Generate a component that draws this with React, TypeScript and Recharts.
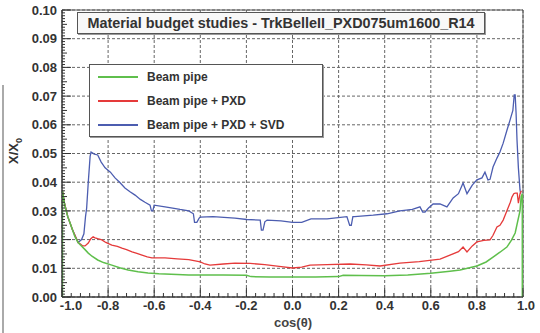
import React from 'react';
import { LineChart, Line, XAxis, YAxis, CartesianGrid, ReferenceArea } from 'recharts';

// cos(theta) positions and X/X0 readings, one pair of arrays per curve
const pipeCos = [-0.998, -0.998, -0.99, -0.985, -0.975, -0.965, -0.955, -0.944, -0.93, -0.92, -0.9, -0.886, -0.87, -0.845, -0.82, -0.784, -0.75, -0.713, -0.67, -0.627, -0.58, -0.553, -0.5, -0.45, -0.4, -0.3, -0.2, -0.18, -0.1, 0.0, 0.1, 0.2, 0.22, 0.3, 0.4, 0.5, 0.6, 0.683, 0.727, 0.8, 0.84, 0.87, 0.9, 0.93, 0.95, 0.966, 0.976, 0.987, 0.992, 0.997, 0.997];
const pipeX0 = [0, 0.037, 0.033, 0.031, 0.028, 0.0258, 0.0235, 0.021, 0.019, 0.0181, 0.0165, 0.0153, 0.0142, 0.0129, 0.012, 0.0111, 0.0102, 0.0094, 0.0088, 0.0084, 0.0081, 0.008, 0.0078, 0.0077, 0.0077, 0.0077, 0.0076, 0.0071, 0.007, 0.007, 0.007, 0.0071, 0.0076, 0.0075, 0.0074, 0.0077, 0.0083, 0.009, 0.0094, 0.0108, 0.0122, 0.0139, 0.0156, 0.0174, 0.0198, 0.0223, 0.026, 0.03, 0.035, 0.036, 0];

const pxdCos = [-0.998, -0.99, -0.975, -0.955, -0.93, -0.92, -0.91, -0.9, -0.886, -0.875, -0.865, -0.857, -0.845, -0.827, -0.81, -0.784, -0.76, -0.74, -0.72, -0.696, -0.675, -0.653, -0.63, -0.61, -0.553, -0.5, -0.45, -0.4, -0.38, -0.358, -0.3, -0.25, -0.184, -0.12, -0.04, 0.0, 0.04, 0.076, 0.15, 0.25, 0.32, 0.38, 0.466, 0.55, 0.64, 0.683, 0.72, 0.74, 0.757, 0.78, 0.8, 0.83, 0.857, 0.87, 0.887, 0.9, 0.914, 0.925, 0.935, 0.945, 0.952, 0.96, 0.966, 0.975, 0.98, 0.987, 0.993];
const pxdX0 = [0.037, 0.033, 0.028, 0.0235, 0.019, 0.0185, 0.0178, 0.0178, 0.0188, 0.0203, 0.021, 0.0206, 0.0203, 0.0199, 0.019, 0.0181, 0.0176, 0.017, 0.0165, 0.0157, 0.0152, 0.0146, 0.014, 0.0136, 0.0136, 0.0133, 0.013, 0.0122, 0.0115, 0.0111, 0.0115, 0.0118, 0.0117, 0.0113, 0.0105, 0.0101, 0.0104, 0.0111, 0.0113, 0.0115, 0.0112, 0.0108, 0.0118, 0.0123, 0.0132, 0.0146, 0.0158, 0.0174, 0.0157, 0.0178, 0.0192, 0.0197, 0.0199, 0.0215, 0.0244, 0.025, 0.0268, 0.029, 0.031, 0.033, 0.0348, 0.036, 0.0362, 0.0362, 0.0327, 0.036, 0.037];

const svdCos = [-0.998, -0.99, -0.975, -0.955, -0.93, -0.915, -0.905, -0.898, -0.893, -0.886, -0.878, -0.874, -0.86, -0.845, -0.83, -0.813, -0.79, -0.77, -0.75, -0.727, -0.705, -0.683, -0.66, -0.64, -0.618, -0.612, -0.606, -0.6, -0.553, -0.52, -0.488, -0.45, -0.43, -0.425, -0.415, -0.405, -0.4, -0.345, -0.25, -0.198, -0.14, -0.135, -0.128, -0.12, -0.11, -0.05, 0.0, 0.04, 0.08, 0.15, 0.236, 0.248, 0.255, 0.262, 0.27, 0.35, 0.41, 0.466, 0.52, 0.553, 0.565, 0.575, 0.59, 0.61, 0.64, 0.67, 0.697, 0.72, 0.74, 0.757, 0.78, 0.8, 0.822, 0.835, 0.848, 0.857, 0.87, 0.887, 0.9, 0.914, 0.93, 0.944, 0.956, 0.962, 0.966, 0.97, 0.974, 0.98, 0.987, 0.99];
const svdX0 = [0.037, 0.033, 0.028, 0.0235, 0.019, 0.02, 0.022, 0.028, 0.031, 0.04, 0.049, 0.0505, 0.0498, 0.0495, 0.047, 0.045, 0.0435, 0.0415, 0.04, 0.038, 0.0367, 0.0355, 0.034, 0.033, 0.032, 0.03, 0.03, 0.032, 0.0314, 0.031, 0.0305, 0.03, 0.029, 0.026, 0.026, 0.0275, 0.0278, 0.028, 0.0275, 0.027, 0.0268, 0.0233, 0.0233, 0.0262, 0.0268, 0.0265, 0.026, 0.026, 0.0272, 0.0272, 0.028, 0.025, 0.025, 0.028, 0.028, 0.0285, 0.029, 0.03, 0.0305, 0.0314, 0.0296, 0.0296, 0.031, 0.0324, 0.0324, 0.0314, 0.0345, 0.036, 0.0397, 0.036, 0.039, 0.0408, 0.0415, 0.0435, 0.0408, 0.041, 0.0453, 0.0484, 0.0505, 0.0536, 0.058, 0.0617, 0.065, 0.0704, 0.0704, 0.064, 0.0547, 0.045, 0.0373, 0.036];

const seriesNames = ['Beam pipe', 'Beam pipe + PXD', 'Beam pipe + PXD + SVD'];
const seriesColors = ['#5fbf4c', '#e53a3a', '#4c5db0'];

const xTicks = [-1.0, -0.8, -0.6, -0.4, -0.2, 0.0, 0.2, 0.4, 0.6, 0.8, 1.0];
const yTicks = [0, 0.01, 0.02, 0.03, 0.04, 0.05, 0.06, 0.07, 0.08, 0.09, 0.1];
// ROOT-style minor divisions
const xAllTicks = Array.from({ length: 51 }, (_, i) => Math.round((-1 + i * 0.04) * 100) / 100);
const yAllTicks = Array.from({ length: 101 }, (_, i) => Math.round(i) / 1000);

const toPoints = (xs: number[], ys: number[]) => xs.map((x, i) => ({ x, v: ys[i] }));
const pipeData = toPoints(pipeCos, pipeX0);
const pxdData = toPoints(pxdCos, pxdX0);
const svdData = toPoints(svdCos, svdX0);

const font = '"Liberation Sans", Arial, sans-serif';
const ink = '#333';

function XTick(props: any) {
  const { x, y, payload, index } = props;
  const v = payload.value as number;
  const major = Math.round(v * 100) % 20 === 0;
  // nudge the end labels inwards a bit, like ROOT does
  const shift = index === 0 ? 9 : index === xAllTicks.length - 1 ? 3 : 0;
  return (
    <g>
      <line x1={x} x2={x} y1={y} y2={y - (major ? 9 : 4)} stroke={ink} />
      {major && (
        <text x={x + shift} y={y + 4} dy="0.71em" textAnchor="middle" fontSize={13} fontWeight={700} fill={ink} fontFamily={font}>
          {v.toFixed(1)}
        </text>
      )}
    </g>
  );
}

function YTick(props: any) {
  const { x, y, payload } = props;
  const n = Math.round(payload.value * 1000);
  const major = n % 10 === 0;
  const len = major ? 9 : n % 5 === 0 ? 5 : 3;
  return (
    <g>
      <line x1={x} x2={x + len} y1={y} y2={y} stroke={ink} />
      {major && (
        <text x={x - 5} y={y} dy="0.36em" textAnchor="end" fontSize={13} fontWeight={700} fill={ink} fontFamily={font}>
          {(n / 1000).toFixed(2)}
        </text>
      )}
    </g>
  );
}

function LegendBox() {
  return (
    <div
      style={{
        position: 'absolute', left: 89, top: 64, width: 232, height: 71,
        border: '1px solid #555', background: '#fff', boxShadow: '1px 1px 0 #999',
        fontFamily: font, fontWeight: 700, fontSize: 12, color: ink,
      }}
    >
      {seriesNames.map((name, i) => (
        <div key={name} style={{ position: 'absolute', left: 8, top: 4 + i * 24, height: 16, display: 'flex', alignItems: 'center' }}>
          <div style={{ width: 40, height: 1.5, background: seriesColors[i], marginRight: 9 }} />
          {name}
        </div>
      ))}
    </div>
  );
}

export default function App() {
  return (
    <div style={{ position: 'absolute', left: 0, top: 0, width: 540, height: 333, background: '#fff', fontFamily: font }}>
      <LineChart width={540} height={333} margin={{ top: 10, right: 17, bottom: 16, left: 7 }}>
        <CartesianGrid stroke="#666" strokeDasharray="3 2" horizontalValues={yTicks} verticalValues={xTicks} />
        <XAxis
          type="number" dataKey="x" domain={[-1, 1]} ticks={xAllTicks} interval={0} height={20}
          tick={<XTick />} tickSize={0} tickMargin={0} tickLine={false} axisLine={{ stroke: ink }}
          allowDataOverflow
        />
        <YAxis
          type="number" domain={[0, 0.1]} ticks={yAllTicks} interval={0} width={55}
          tick={<YTick />} tickSize={0} tickMargin={0} tickLine={false} axisLine={{ stroke: ink }}
          allowDataOverflow
        />
        <ReferenceArea x1={-1} x2={1} y1={0} y2={0.1} fill="none" stroke="#555" />
        <Line data={svdData} dataKey="v" type="linear" stroke={seriesColors[2]} strokeWidth={1.3} dot={false} isAnimationActive={false} />
        <Line data={pxdData} dataKey="v" type="linear" stroke={seriesColors[1]} strokeWidth={1.3} dot={false} isAnimationActive={false} />
        <Line data={pipeData} dataKey="v" type="linear" stroke={seriesColors[0]} strokeWidth={1.5} dot={false} isAnimationActive={false} />
      </LineChart>
      <div
        style={{
          position: 'absolute', left: 77, top: 12, width: 406, height: 20,
          border: '1px solid #555', background: '#f8f8f8', boxShadow: '1px 1px 0 #999',
          textAlign: 'center', lineHeight: '20px', fontWeight: 700, fontSize: 14.4, color: ink,
        }}
      >
        Material budget studies - TrkBelleII_PXD075um1600_R14
      </div>
      <LegendBox />
      <div
        style={{
          position: 'absolute', left: 15, top: 151, transform: 'translate(-50%, -50%) rotate(-90deg)',
          fontWeight: 700, fontSize: 13, color: ink, whiteSpace: 'nowrap',
        }}
      >
        X/X<sub style={{ fontSize: 9 }}>0</sub>
      </div>
      <div
        style={{
          position: 'absolute', left: 293, top: 322, transform: 'translate(-50%, -50%)',
          fontWeight: 700, fontSize: 13, color: '#444', whiteSpace: 'nowrap',
        }}
      >
        cos(θ)
      </div>
      <div style={{ position: 'absolute', left: 2, top: 85, width: 2, height: 248, background: '#aaa' }} />
    </div>
  );
}
